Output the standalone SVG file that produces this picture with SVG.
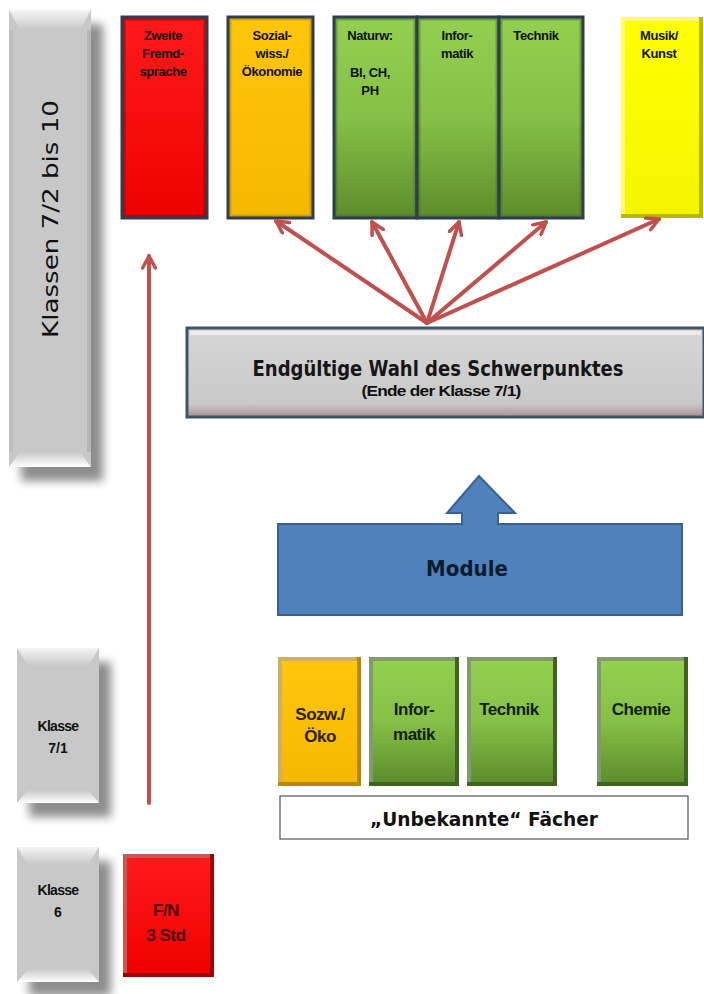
<svg xmlns="http://www.w3.org/2000/svg" width="704" height="994" viewBox="0 0 704 994">
<defs>
  <style>
    .t { font-family: "Liberation Sans", Arial, sans-serif; font-weight: bold; text-anchor: middle; fill: #111; }
    .small { font-size: 13px; letter-spacing: -0.4px; }
    .mid { font-size: 17px; letter-spacing: -0.5px; }
    .gray { font-family: "DejaVu Sans", sans-serif; }
    .conn { stroke: #c0504d; stroke-width: 4; fill: none; stroke-linecap: round; }
    .topborder { fill: none; stroke: #2e3d4f; stroke-width: 3; }
    .hl { fill: #ffffff; opacity: 0.35; }
  </style>
  <linearGradient id="gRed" x1="0" y1="0" x2="0" y2="1"><stop offset="0" stop-color="#ff1a1a"/><stop offset="1" stop-color="#f00000"/></linearGradient>
  <linearGradient id="gOrange" x1="0" y1="0" x2="0" y2="1"><stop offset="0" stop-color="#ffc60a"/><stop offset="1" stop-color="#f5b800"/></linearGradient>
  <linearGradient id="gGreen" x1="0" y1="0" x2="0" y2="1"><stop offset="0" stop-color="#92d050"/><stop offset="0.5" stop-color="#86c046"/><stop offset="1" stop-color="#5d8d2c"/></linearGradient>
  <linearGradient id="gYellow" x1="0" y1="0" x2="0" y2="1"><stop offset="0" stop-color="#ffff00"/><stop offset="1" stop-color="#f5f500"/></linearGradient>
  <linearGradient id="gGrayTop" x1="0" y1="0" x2="0" y2="1"><stop offset="0" stop-color="#f4f4f4"/><stop offset="1" stop-color="#c8c8c8"/></linearGradient>
  <linearGradient id="gGrayBot" x1="0" y1="0" x2="0" y2="1"><stop offset="0" stop-color="#c8c8c8"/><stop offset="1" stop-color="#ffffff"/></linearGradient>
  <linearGradient id="gWahl" x1="0" y1="0" x2="0" y2="1"><stop offset="0" stop-color="#d6d6d6"/><stop offset="0.85" stop-color="#c9c9c9"/><stop offset="1" stop-color="#a89090"/></linearGradient>
  <filter id="drop" x="-20%" y="-10%" width="160%" height="140%">
    <feGaussianBlur in="SourceAlpha" stdDeviation="5"/>
    <feOffset dx="12" dy="14" result="b"/>
    <feComponentTransfer><feFuncA type="linear" slope="0.45"/></feComponentTransfer>
    <feMerge><feMergeNode/><feMergeNode in="SourceGraphic"/></feMerge>
  </filter>
  <marker id="ah" viewBox="0 0 10 10" refX="8.5" refY="5" markerWidth="4" markerHeight="4" orient="auto" markerUnits="strokeWidth">
    <path d="M1,1 L8.5,5 L1,9" fill="none" stroke="#c0504d" stroke-width="2.2" stroke-linecap="round" stroke-linejoin="round"/>
  </marker>
</defs>
<rect width="704" height="994" fill="#ffffff"/>

<!-- Left grade bars -->
<g id="klassen-7-2-bis-10">
  <g filter="url(#drop)">
    <rect x="9" y="10" width="82" height="457" fill="#c8c8c8"/>
  </g>
  <polygon points="9,10 91,10 80,30 20,30" fill="url(#gGrayTop)"/>
  <polygon points="9,467 91,467 80,452 20,452" fill="url(#gGrayBot)"/>
  <rect x="9" y="30" width="4" height="422" fill="#bdbdbd"/>
  <rect x="87" y="30" width="4" height="422" fill="#b5b5b5"/>
  <text class="gray" x="0" y="0" font-size="22" fill="#111" text-anchor="middle" transform="translate(58,219) rotate(-90)" textLength="238" lengthAdjust="spacingAndGlyphs">Klassen 7/2 bis 10</text>
</g>

<g id="klasse-7-1">
  <g filter="url(#drop)">
    <rect x="17" y="648" width="82" height="155" fill="#c8c8c8"/>
  </g>
  <polygon points="17,648 99,648 88,666 28,666" fill="url(#gGrayTop)"/>
  <polygon points="17,803 99,803 88,790 28,790" fill="url(#gGrayBot)"/>
  <text class="t" font-size="14" letter-spacing="-0.7" x="58" y="731">Klasse</text>
  <text class="t" font-size="14" x="58" y="753">7/1</text>
</g>

<g id="klasse-6">
  <g filter="url(#drop)">
    <rect x="17" y="847" width="82" height="135" fill="#c8c8c8"/>
  </g>
  <polygon points="17,847 99,847 88,865 28,865" fill="url(#gGrayTop)"/>
  <polygon points="17,982 99,982 88,969 28,969" fill="url(#gGrayBot)"/>
  <text class="t" font-size="14" letter-spacing="-0.7" x="58" y="895">Klasse</text>
  <text class="t" font-size="14" x="58" y="917">6</text>
</g>

<g id="fn-3-std">
  <rect x="123" y="854" width="91" height="123" fill="#a00000"/>
  <rect x="123" y="854" width="87" height="119" class="hl"/>
  <rect x="127" y="858" width="83" height="115" fill="url(#gRed)"/>
  <text class="t mid" x="166" y="916" style="fill:#4a0000">F/N</text>
  <text class="t mid" x="166" y="941" style="fill:#4a0000">3 Std</text>
</g>

<!-- Top subject boxes -->
<g id="zweite-fremdsprache">
  <rect x="122" y="17" width="85" height="201" fill="url(#gRed)"/>
  <rect x="124" y="19" width="81" height="197" fill="none" stroke="#a00000" stroke-width="3" opacity="0.6"/>
  <rect x="122" y="17" width="85" height="201" class="topborder"/>
  <text class="t small" x="163" y="40">Zweite</text>
  <text class="t small" x="163" y="58">Fremd-</text>
  <text class="t small" x="163" y="76">sprache</text>
</g>

<g id="sozialwiss-oekonomie">
  <rect x="228" y="17" width="85" height="201" fill="url(#gOrange)"/>
  <rect x="230" y="19" width="81" height="197" fill="none" stroke="#c08a00" stroke-width="3" opacity="0.6"/>
  <rect x="228" y="17" width="85" height="201" class="topborder"/>
  <text class="t small" x="272" y="40">Sozial-</text>
  <text class="t small" x="272" y="58">wiss./</text>
  <text class="t small" x="272" y="76">Ökonomie</text>
</g>

<g id="naturw">
  <rect x="334" y="17" width="83" height="201" fill="url(#gGreen)"/>
  <rect x="336" y="19" width="79" height="197" fill="none" stroke="#4a7020" stroke-width="3" opacity="0.5"/>
  <rect x="334" y="17" width="83" height="201" class="topborder"/>
  <text class="t small" x="370" y="40">Naturw:</text>
  <text class="t small" x="370" y="77">Bl, CH,</text>
  <text class="t small" x="370" y="95">PH</text>
</g>

<g id="informatik-top">
  <rect x="417" y="17" width="82" height="201" fill="url(#gGreen)"/>
  <rect x="419" y="19" width="78" height="197" fill="none" stroke="#4a7020" stroke-width="3" opacity="0.5"/>
  <rect x="417" y="17" width="82" height="201" class="topborder"/>
  <text class="t small" x="457" y="40">Infor-</text>
  <text class="t small" x="457" y="58">matik</text>
</g>

<g id="technik-top">
  <rect x="499" y="17" width="84" height="201" fill="url(#gGreen)"/>
  <rect x="501" y="19" width="80" height="197" fill="none" stroke="#4a7020" stroke-width="3" opacity="0.5"/>
  <rect x="499" y="17" width="84" height="201" class="topborder"/>
  <text class="t small" x="536" y="40">Technik</text>
</g>

<g id="musik-kunst">
  <rect x="621" y="17" width="82" height="201" fill="#b8b800"/>
  <rect x="621" y="17" width="78" height="197" fill="#ffff66"/>
  <rect x="625" y="21" width="74" height="193" fill="url(#gYellow)"/>
  <text class="t small" x="659" y="40">Musik/</text>
  <text class="t small" x="659" y="58">Kunst</text>
</g>

<!-- Final choice box -->
<g id="endgueltige-wahl">
  <rect x="187" y="328" width="517" height="89" fill="url(#gWahl)" stroke="#3f5468" stroke-width="3"/>
  <rect x="190" y="331" width="511" height="4" fill="#ececec"/>
  <text x="438" y="376" font-size="21" font-weight="bold" text-anchor="middle" fill="#161616" font-family="'DejaVu Sans Condensed','DejaVu Sans',sans-serif" textLength="371" lengthAdjust="spacingAndGlyphs">Endgültige Wahl des Schwerpunktes</text>
  <text class="t" x="441" y="396" font-size="14" letter-spacing="-0.6" textLength="159" lengthAdjust="spacingAndGlyphs">(Ende der Klasse 7/1)</text>
</g>

<!-- Module -->
<g id="module">
  <path d="M278,524 L462,524 L462,513 L447,513 L479,476 L515,513 L498,513 L498,524 L682,524 L682,615 L278,615 Z" fill="#4f81bd" stroke="#3b6090" stroke-width="2"/>
  <text class="t" x="467" y="576" font-size="22" style="fill:#0e1b2c;font-family:'DejaVu Sans Condensed','DejaVu Sans',sans-serif">Module</text>
</g>

<!-- Unknown subjects -->
<g id="sozw-oeko">
  <rect x="278" y="657" width="83" height="129" fill="#b58800"/>
  <rect x="278" y="657" width="79" height="125" class="hl"/>
  <rect x="282" y="661" width="75" height="121" fill="url(#gOrange)"/>
  <text class="t mid" x="320" y="720" style="fill:#2a2000">Sozw./</text>
  <text class="t mid" x="320" y="742" style="fill:#2a2000">Öko</text>
</g>

<g id="informatik">
  <rect x="369" y="657" width="90" height="129" fill="#3f6420"/>
  <rect x="369" y="657" width="86" height="125" class="hl"/>
  <rect x="373" y="661" width="82" height="121" fill="url(#gGreen)"/>
  <text class="t mid" x="414" y="715" style="fill:#12200a">Infor-</text>
  <text class="t mid" x="414" y="740" style="fill:#12200a">matik</text>
</g>

<g id="technik">
  <rect x="467" y="657" width="90" height="129" fill="#3f6420"/>
  <rect x="467" y="657" width="86" height="125" class="hl"/>
  <rect x="471" y="661" width="82" height="121" fill="url(#gGreen)"/>
  <text class="t mid" x="509" y="715" style="fill:#12200a">Technik</text>
</g>

<g id="chemie">
  <rect x="597" y="657" width="91" height="129" fill="#3f6420"/>
  <rect x="597" y="657" width="87" height="125" class="hl"/>
  <rect x="601" y="661" width="83" height="121" fill="url(#gGreen)"/>
  <text class="t mid" x="641" y="715" style="fill:#12200a">Chemie</text>
</g>

<g id="unbekannte-faecher">
  <rect x="280" y="796" width="408" height="43" fill="#ffffff" stroke="#555555" stroke-width="1.2"/>
  <text class="t" x="484" y="826" font-size="20" textLength="228" lengthAdjust="spacingAndGlyphs" style="font-family:'DejaVu Sans Condensed','DejaVu Sans',sans-serif">„Unbekannte“ Fächer</text>
</g>

<!-- Connectors -->
<g id="connectors">
  <line class="conn" x1="149" y1="803" x2="149" y2="256" marker-end="url(#ah)"/>
  <line class="conn" x1="427" y1="323" x2="276" y2="221" marker-end="url(#ah)"/>
  <line class="conn" x1="427" y1="323" x2="372" y2="222" marker-end="url(#ah)"/>
  <line class="conn" x1="427" y1="323" x2="459" y2="222" marker-end="url(#ah)"/>
  <line class="conn" x1="427" y1="323" x2="546" y2="222" marker-end="url(#ah)"/>
  <line class="conn" x1="427" y1="323" x2="659" y2="219" marker-end="url(#ah)"/>
</g>
</svg>
